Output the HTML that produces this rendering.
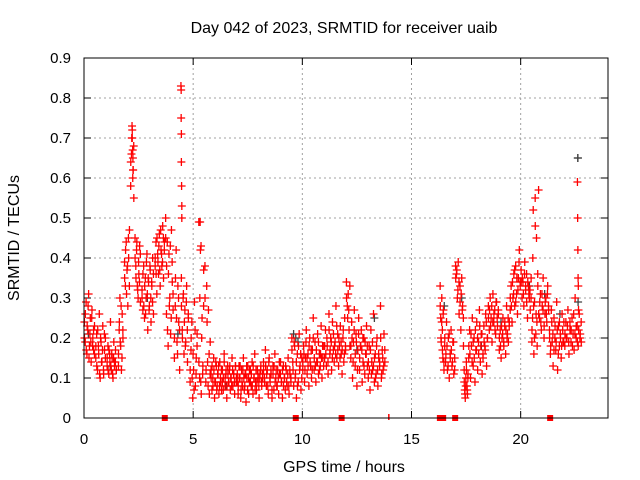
<!DOCTYPE html>
<html><head><meta charset="utf-8"><style>
html,body{margin:0;padding:0;background:#fff;}
svg{display:block;font-family:"Liberation Sans",sans-serif;}
</style></head><body>
<svg id="chart" width="640" height="480" viewBox="0 0 640 480">
<text x="344" y="33" text-anchor="middle" font-size="16" fill="#000">Day 042 of 2023, SRMTID for receiver uaib</text>
<text x="344" y="472" text-anchor="middle" font-size="16" fill="#000">GPS time / hours</text>
<text x="19" y="238" text-anchor="middle" font-size="16" fill="#000" transform="rotate(-90 19 238)">SRMTID / TECUs</text>
<g id="grid"></g>
<g id="ticks"></g>
<g id="gray"></g>
<g id="red"></g>
<g id="marks"></g>
<rect x="84" y="58" width="524" height="360" fill="none" stroke="#000" stroke-width="1"/>
</svg>
<script>
const xTicks=[0,5,10,15,20];
const yTicks=[0,0.1,0.2,0.3,0.4,0.5,0.6,0.7,0.8,0.9];
const yTickLabels=["0","0.1","0.2","0.3","0.4","0.5","0.6","0.7","0.8","0.9"];
const segStart=[0,0.52,1.04,1.56,1.84,2.12,2.32,2.64,3.24,3.72,4.12,4.44,4.84,5.24,5.52,5.8,7.0,8.2,9.5,10,11,12,12.2,13,16.3,16.5,17.0,17.4,17.6,18.5,19.0,19.5,20.0,20.5,20.8,21.3,22.0];
const segEnd=[0.5,1.0,1.5,1.8,2.1,2.3,2.6,3.2,3.7,4.1,4.4,4.8,5.2,5.5,5.8,7.0,8.2,9.5,10,11,12,12.2,13,13.8,16.5,17.0,17.4,17.6,18.5,19.0,19.5,20.0,20.5,20.8,21.3,22.0,22.8];
const segValues=[
[24,19,29,16,22,31,18,25,14,27,20,17,23],
[15,21,12,18,26,10,19,14,23,11,17,20],
[13,18,11,16,24,12,15,10,19,14,17,12],
[13,22,30,18,12,26,20],
[39,33,44,37,28,40,47],
[58,66,72,62,55],
[45,38,42,33,30,36,43,29],
[32,27,38,25,35,30,41,22,34,28,37,24,33,40,26],
[38,44,31,41,36,46,33,42,38,48,35,44],
[50,26,44,18,41,30,21,47,34,27],
[15,28,42,19,33,24,12],
[35,22,30,16,27,19,33,14,25],
[9,17,24,5,12,29,8,15,21],
[49,10,42,6,25,13,37],
[38,9,33,14,27,6,19],
[12,7,10,15,5,9,13,8,11,6,14,9,7,12,10,16,8,11,5,13,9,12,7,10,15,8,11,6,13,9],
[9,6,13,10,5,12,8,15,7,11,4,10,13,6,9,12,8,14,6,10,16,9,7,12,10,5,11,13,8,10],
[14,10,17,8,12,6,15,9,11,5,13,7,16,10,8,12,6,11,14,9,5,13,10,7,12,8,15,6,11,9],
[20,14,8,18,11,5,16,9,21,13,7,15],
[12,18,9,15,22,11,16,8,20,13,10,17,25,12,19,9,14,21,11,16,13,23,10,15,18],
[15,22,13,18,11,26,16,20,12,24,17,14,19,28,15,21,13,18,23,16,11,20,14,25,17],
[34,28,31,22,18],
[15,24,10,19,27,13,21,8,17,25,12,18,22,9,14,20,11,16,23,13],
[10,18,7,22,14,12,26,9,16,11,20,8,15,13,28,10,17,12,21,14],
[33,25,19,30,22,15,27,12],
[18,14,24,12,20,10,16,22,13,19,11,15],
[38,36,30,39,26,33,22,35,28,18],
[12,7,5,10,14,8,6,11],
[15,22,10,18,25,13,20,9,17,24,12,19,27,14,21,11,16,23,18,26,13,20],
[28,22,30,25,19,31,24,27,21,29,23,26],
[17,22,15,20,25,18,23,16,28,21,19,24],
[27,33,24,30,36,28,38,31,26,35,42,33],
[37,30,34,28,39,32,36,25,33,30,27,35],
[19,25,52,16,29,55,21,45,18,33],
[57,25,31,22,28,35,20,26,30,24,33,27],
[22,16,27,19,13,25,20,17,29,12,23,18,21,15,26,19,24],
[18,24,20,27,16,22,19,25,21,17,30,20,23,18,26,21,19]];
const segValues2=[
[20,26,17,23,28,15,21,19,25,18,22,16],
[18,13,22,16,11,20,14,17,12,21,15],
[15,12,17,14,13,16,11,15,13,14,12],
[16,24,19,28,15,22],
[35,42,31,38,45,33],
[64,70,60,68],
[40,35,44,32,39,34,41],
[30,36,28,33,26,39,31,35,27,38,30,34,29,36],
[40,36,45,39,43,37,47,41,39,45,42],
[45,38,22,36,28,43,25,39,31],
[20,35,25,16,30,22],
[28,20,31,24,18,29,22,26],
[12,20,10,16,7,22,11,18],
[14,30,9,20,11,28],
[30,12,24,8,16,11],
[10,13,8,12,9,14,7,11,13,8,10,12,9,7,14,10,12,8,11,9,13,10,8,12,11,9,13,10],
[11,8,10,13,7,9,12,10,8,11,13,7,10,12,9,11,8,13,10,7,12,9,11,8,10,12,9,11],
[12,9,13,11,8,14,10,12,7,11,13,9,12,8,10,14,11,9,12,8,10,13,9,11,8,12,10],
[17,12,19,10,14,8,18,12,16,10],
[14,16,12,19,15,13,18,14,17,12,20,15,13,17,14,19,12,16,15,18,13],
[18,16,20,14,22,17,19,15,21,18,16,23,17,20,15,19,17,22,16,18],
[30,25,27,33],
[18,20,14,22,16,19,12,21,15,18,17,20,13,19,16,18],
[14,12,17,11,19,13,15,10,18,12,16,14,20,11,15,13,17],
[28,20,24,17,26,14],
[20,16,18,13,21,15,17,14,19,12],
[35,37,32,34,29,31,27,25],
[9,6,8,12,7,10],
[18,16,21,14,19,15,22,17,20,16,23,18,21,15,19,17,24,20],
[25,27,23,28,24,26,22,29,25,27],
[20,18,23,21,19,24,22,20,25,23],
[30,28,34,31,37,29,35,32,39,34],
[34,35,31,36,33,29,34,31,32,30],
[22,40,28,20,48,26,24,36],
[26,29,24,31,27,23,29,26,31,28],
[20,18,24,21,17,23,19,22,16,24,20,18,22,19],
[21,20,23,19,24,22,18,26,21,23,19,22,20,24]];
const spikeTimes=[2.2,2.21,2.23,2.24,2.25,4.44,4.45,4.45,4.46,4.46,4.47,4.48,4.48,5.32,5.36,22.6,22.61,22.62,22.63,22.64,22.65];
const spikeValues=[73,70,67,65,62,83,82,75,71,64,58,53,50,49,43,59,50,42,35,33,27];
const grayTimes=[0.2,1.2,2.9,4.3,6.5,9.6,9.7,9.8,12.5,13.3,16.5,17.3,18.2,19.1,20.4,21.1,21.8,22.62,22.63];
const grayValues=[21,13,30,21,8,21,20,19,17,25,28,30,18,24,33,31,26,65,29];
const gapTimes=[3.7,9.7,11.8,16.3,16.45,17.0,21.35];
const X=h=>84+h*(524/24), Y=v=>418-v*400;
const NS="http://www.w3.org/2000/svg";
function mk(tag,attrs,parent){const e=document.createElementNS(NS,tag);for(const k in attrs)e.setAttribute(k,attrs[k]);parent.appendChild(e);return e;}
const grid=document.getElementById('grid'),ticks=document.getElementById('ticks');
xTicks.forEach(t=>{
 if(t>0){const l=mk('line',{x1:X(t),x2:X(t),y1:58,y2:418,stroke:'#a0a0a0','stroke-dasharray':'2,3'},grid);
 
 }
 mk('line',{x1:X(t),x2:X(t),y1:418,y2:411,stroke:'#000'},ticks);
 mk('line',{x1:X(t),x2:X(t),y1:58,y2:65,stroke:'#000'},ticks);
 const tx=mk('text',{x:X(t),y:444,'text-anchor':'middle','font-size':15},ticks);tx.textContent=t;
 
 
});
yTicks.forEach((v,i)=>{
 if(v>0&&v<0.9){const l=mk('line',{x1:84,x2:608,y1:Y(v),y2:Y(v),stroke:'#a0a0a0','stroke-dasharray':'2,3'},grid);
 
 }
 mk('line',{x1:84,x2:91,y1:Y(v),y2:Y(v),stroke:'#000'},ticks);
 mk('line',{x1:608,x2:601,y1:Y(v),y2:Y(v),stroke:'#000'},ticks);
 const tx=mk('text',{x:71,y:Y(v)+5,'text-anchor':'end','font-size':15},ticks);tx.textContent=yTickLabels[i];
 
 
});
function plus(g,t,v,col){
 const x=X(t),y=Y(v/100);
 const p=mk('path',{d:`M${x-4},${y}h8M${x},${y-4}v8`,stroke:col,'stroke-width':1.3,fill:'none'},g);
 
 
}
const red=document.getElementById('red'),gray=document.getElementById('gray');
grayTimes.forEach((t,i)=>plus(gray,t,grayValues[i],'#404040'));
[segValues,segValues2].forEach(arr=>arr.forEach((vals,s)=>{const d=(segEnd[s]-segStart[s])/vals.length;vals.forEach((v,i)=>plus(red,segStart[s]+(i+0.5)*d,v,'#ff0000'));}));
spikeTimes.forEach((t,i)=>plus(red,t,spikeValues[i],'#ff0000'));
plus(gray,22.62,65,'#404040');
const marks=document.getElementById('marks');
gapTimes.forEach(t=>{const r=mk('rect',{x:X(t)-3,y:415,width:6,height:6,fill:'#ff0000'},marks);
 
 });
const tk=mk('rect',{x:X(13.95)-0.5,y:414,width:1.5,height:6,fill:'#ff0000'},marks);


</script>
</body></html>
